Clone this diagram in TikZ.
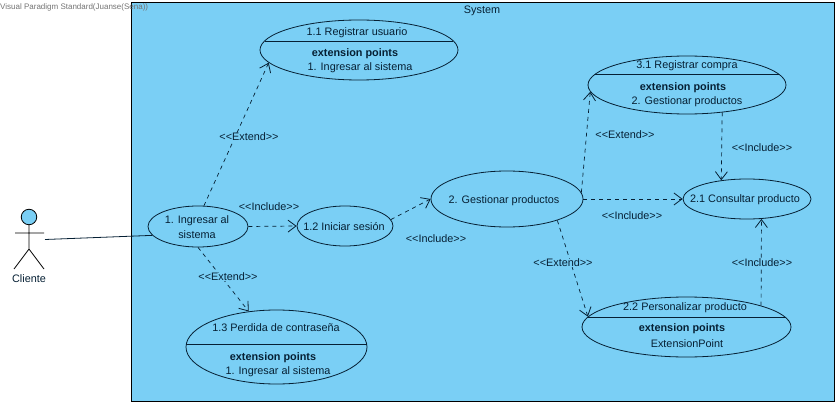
\documentclass[tikz,border=0pt]{standalone}
\usepackage{fontspec}
\setmainfont{Liberation Sans}
\usetikzlibrary{arrows.meta,shapes.geometric}
\definecolor{sysblue}{RGB}{122,207,245}
\definecolor{inkblue}{RGB}{6,32,52}
\newcommand{\extlbl}{<{}<Extend>{}>}
\newcommand{\inclbl}{<{}<Include>{}>}
\tikzset{
	usecase/.style={draw=inkblue, ellipse, fill=sysblue, line width=0.8pt, inner sep=0pt},
	lbl/.style={font=\fontsize{10.85}{13}\selectfont, text=inkblue, inner sep=0pt, align=center, yshift=-0.8pt},
	deplbl/.style={lbl, fill=sysblue},
	dep/.style={draw=inkblue, dash pattern=on 4pt off 4pt, line width=0.7pt, -{Straight Barb[length=8pt,width=12pt,line width=0.8pt]}},
	sep/.style={draw=inkblue, line width=0.8pt},
}
\begin{document}
\begin{tikzpicture}[x=1pt,y=-1pt]
	\useasboundingbox (0,0) rectangle (840,406);
	\node (system) [draw=black, fill=sysblue, line width=0.8pt, minimum width=703.5pt, minimum height=398.5pt, anchor=north west, inner sep=0pt] at (130.5,2.5) {};
	\node (title) [lbl] at (482,10.5) {System};
	\node (vp) [lbl, anchor=west, font=\fontsize{8}{9}\selectfont, text=black!55] at (0,7) {Visual Paradigm Standard(Juanse(Sena))};
	% use cases
	\node (n11) [usecase, minimum width=198pt, minimum height=60pt] at (359,50) {};
	\node (n31) [usecase, minimum width=198pt, minimum height=58pt] at (687,85) {};
	\node (n21) [usecase, minimum width=128pt, minimum height=40pt] at (747,199) {};
	\node (n22) [usecase, minimum width=209pt, minimum height=60pt] at (686.5,327) {};
	\node (n1) [usecase, minimum width=100pt, minimum height=41pt] at (198,226.5) {};
	\node (n12) [usecase, minimum width=96pt, minimum height=40pt] at (345,226) {};
	\node (n2) [usecase, minimum width=152pt, minimum height=56pt] at (507,199) {};
	\node (n13) [usecase, minimum width=181pt, minimum height=74pt] at (276.5,347) {};
	% compartments
	\draw [sep] (265,41) -- (453,41);
	\draw [sep] (595,74) -- (779,74);
	\draw [sep] (588,317) -- (785,317);
	\draw [sep] (186,344) -- (367,344);
	% texts
	\node (t11a) [lbl] at (357,32) {1.1 Registrar usuario};
	\node (t11b) [lbl] at (355,52.5) {\textbf{extension points}};
	\node (t11c) [lbl] at (360,67) {1. Ingresar al sistema};
	\node (t31a) [lbl] at (687,65) {3.1 Registrar compra};
	\node (t31b) [lbl] at (683,86.5) {\textbf{extension points}};
	\node (t31c) [lbl] at (687,101) {2. Gestionar productos};
	\node (t21) [lbl] at (745,199) {2.1 Consultar producto};
	\node (t22a) [lbl] at (685,307) {2.2 Personalizar producto};
	\node (t22b) [lbl] at (682,328) {\textbf{extension points}};
	\node (t22c) [lbl] at (687,343) {ExtensionPoint};
	\node (t1) [lbl] at (197,226.5) {1. Ingresar al\\[2pt]sistema};
	\node (t12) [lbl] at (344,226) {1.2 Iniciar sesión};
	\node (t2) [lbl] at (504,200) {2. Gestionar productos};
	\node (t13a) [lbl] at (276,327) {1.3 Perdida de contraseña};
	\node (t13b) [lbl] at (273,357) {\textbf{extension points}};
	\node (t13c) [lbl] at (278,371) {1. Ingresar al sistema};
	% actor
	\node (head) [draw=black, fill=sysblue, circle, minimum size=15.5pt, inner sep=0pt, line width=0.8pt] at (29,217) {};
	\coordinate (hip) at (29,249);
	\coordinate (hand) at (45,239.5);
	\draw [line width=0.8pt] (head) -- (hip) (15,233) -- (44,233) (14,269) -- (hip) -- (44,269);
	\node (cliente) [lbl] at (29,277.5) {Cliente};
	% connectors
	\draw [line width=0.8pt, draw=inkblue] (hand) -- (n1.191);
	\draw [dep] (n1.74) -- (n11.188);
	\draw [dep] (n1.east) -- (n12.west);
	\draw [dep] (n1.south) -- (n13.128);
	\draw [dep] (n12.8) -- (n2.west);
	\draw [dep] (n2.east) -- (n21.west);
	\draw [dep] (n2.5) -- (n31.184);
	\draw [dep] (n2.337) -- (n22.174);
	\draw [dep] (n31.322) -- (n21.144);
	\draw [dep] (n22.16) -- (n21.306);
	% labels
	\node (e1) [deplbl] at (249,136) {\extlbl};
	\node (i1) [deplbl] at (269,206) {\inclbl};
	\node (e2) [deplbl] at (228,276) {\extlbl};
	\node (i2) [deplbl] at (436,238) {\inclbl};
	\node (e3) [deplbl] at (625,134) {\extlbl};
	\node (i3) [deplbl] at (762,147) {\inclbl};
	\node (i4) [deplbl] at (632,215) {\inclbl};
	\node (e4) [deplbl] at (563,262) {\extlbl};
	\node (i5) [deplbl] at (762,262) {\inclbl};
\end{tikzpicture}
\end{document}
